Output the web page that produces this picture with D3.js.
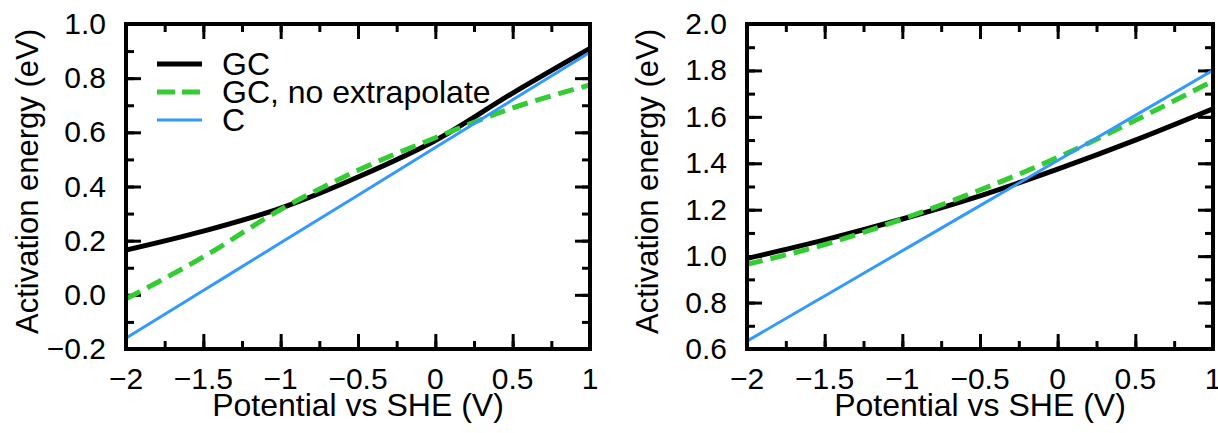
<!DOCTYPE html>
<html>
<head>
<meta charset="utf-8">
<script src="https://cdn.jsdelivr.net/npm/d3@7"></script>
<style>
  body { margin: 0; background: #fff; }
  svg { display: block; }
  text { font-family: "Liberation Sans", Arial, Helvetica, sans-serif; fill: #000; }
</style>
</head>
<body>
<div id="chart"></div>
<script>
const potential = [-2, -1.5, -1, -0.5, 0, 0.5, 1];

// left panel
const leftGC = [0.165, 0.235, 0.32, 0.435, 0.57, 0.745, 0.91];
const leftGCNoExtrap = [-0.015, 0.14, 0.315, 0.46, 0.58, 0.69, 0.775];
const leftC = [-0.16, 0.016, 0.192, 0.368, 0.544, 0.72, 0.896];

// right panel
const rightGC = [0.99, 1.07, 1.16, 1.26, 1.375, 1.5, 1.635];
const rightGCNoExtrap = [0.965, 1.05, 1.16, 1.285, 1.425, 1.585, 1.755];
const rightC = [0.634, 0.8285, 1.023, 1.2175, 1.412, 1.6065, 1.801];

const xTicks = [-2, -1.5, -1, -0.5, 0, 0.5, 1];
const xTickLabels = ["\u22122", "\u22121.5", "\u22121", "\u22120.5", "0", "0.5", "1"];
const leftYTicks = [-0.2, 0, 0.2, 0.4, 0.6, 0.8, 1.0];
const rightYTicks = [0.6, 0.8, 1.0, 1.2, 1.4, 1.6, 1.8, 2.0];

const seriesNames = ["GC", "GC, no extrapolate", "C"];

const width = 1218;
const height = 433;
const tickFont = 30;

const svg = d3.select("#chart").append("svg")
  .attr("width", width)
  .attr("height", height);

const fmtY = v => {
  const s = Math.abs(v).toFixed(1);
  return v < -1e-9 ? "\u2212" + s : s;
};

function drawPanel(opts) {
  const { left, right, top, bottom, yDomain, yTicks, gc, gcNo, c, legend, id, titleX } = opts;

  const x = d3.scaleLinear().domain([-2, 1]).range([left, right]);
  const y = d3.scaleLinear().domain(yDomain).range([bottom, top]);

  const g = svg.append("g");

  g.append("clipPath").attr("id", id)
    .append("rect")
    .attr("x", left).attr("y", top)
    .attr("width", right - left).attr("height", bottom - top);

  const xMinor = d3.range(-2, 1.0001, 0.25);
  const yMinor = d3.range(yDomain[0], yDomain[1] + 1e-6, 0.1);

  const tickGroup = g.append("g");
  function ticks(axis, transform, values, size) {
    tickGroup.append("g")
      .attr("transform", transform)
      .call(axis.tickValues(values).tickSize(size).tickFormat(""))
      .call(s => s.select(".domain").remove())
      .call(s => s.selectAll("line").attr("stroke", "#000").attr("stroke-width", 3));
  }
  // inward ticks on all four sides
  ticks(d3.axisBottom(x), `translate(0,${bottom})`, xMinor, -8);
  ticks(d3.axisBottom(x), `translate(0,${bottom})`, xTicks, -15);
  ticks(d3.axisTop(x), `translate(0,${top})`, xMinor, -8);
  ticks(d3.axisTop(x), `translate(0,${top})`, xTicks, -15);
  ticks(d3.axisLeft(y), `translate(${left},0)`, yMinor, -8);
  ticks(d3.axisLeft(y), `translate(${left},0)`, yTicks, -15);
  ticks(d3.axisRight(y), `translate(${right},0)`, yMinor, -8);
  ticks(d3.axisRight(y), `translate(${right},0)`, yTicks, -15);

  // tick labels
  g.append("g").selectAll("text")
    .data(xTicks)
    .join("text")
    .attr("x", d => x(d))
    .attr("y", bottom + 40)
    .attr("text-anchor", "middle")
    .attr("font-size", tickFont)
    .text((d, i) => xTickLabels[i]);

  g.append("g").selectAll("text")
    .data(yTicks)
    .join("text")
    .attr("x", left - 20)
    .attr("y", d => y(d) + 10)
    .attr("text-anchor", "end")
    .attr("font-size", tickFont)
    .text(d => fmtY(d));

  // axis titles
  g.append("text")
    .attr("x", (left + right) / 2)
    .attr("y", bottom + 67)
    .attr("text-anchor", "middle")
    .attr("font-size", 32)
    .text("Potential vs SHE (V)");

  g.append("text")
    .attr("transform", `translate(${titleX},${(top + bottom) / 2 - 5}) rotate(-90)`)
    .attr("text-anchor", "middle")
    .attr("font-size", 31)
    .text("Activation energy (eV)");

  // lines
  const line = vals => d3.line()
    .x((d, i) => x(potential[i]))
    .y(d => y(d))
    .curve(d3.curveMonotoneX)(vals);

  const lines = g.append("g").attr("clip-path", `url(#${id})`);
  lines.append("path").attr("d", line(gc))
    .attr("fill", "none").attr("stroke", "#000").attr("stroke-width", 5);
  lines.append("path").attr("d", line(gcNo))
    .attr("fill", "none").attr("stroke", "#33cc33").attr("stroke-width", 5)
    .attr("stroke-dasharray", "16,8");
  lines.append("path").attr("d", line(c))
    .attr("fill", "none").attr("stroke", "#3399ff").attr("stroke-width", 3);

  // frame
  g.append("rect")
    .attr("x", left).attr("y", top)
    .attr("width", right - left).attr("height", bottom - top)
    .attr("fill", "none").attr("stroke", "#000").attr("stroke-width", 4);

  if (legend) {
    const styles = [
      { stroke: "#000", w: 5, dash: null },
      { stroke: "#33cc33", w: 5, dash: "18,7" },
      { stroke: "#3399ff", w: 3, dash: null }
    ];
    const lg = g.append("g");
    seriesNames.forEach((name, i) => {
      const yy = 64 + i * 28;
      lg.append("line")
        .attr("x1", 157).attr("x2", 202).attr("y1", yy).attr("y2", yy)
        .attr("stroke", styles[i].stroke).attr("stroke-width", styles[i].w)
        .attr("stroke-dasharray", styles[i].dash);
      lg.append("text")
        .attr("x", 222).attr("y", yy + 11)
        .attr("font-size", 32)
        .text(name);
    });
  }
}

drawPanel({
  id: "clipL", left: 126, right: 590, top: 24, bottom: 349,
  yDomain: [-0.2, 1.0], yTicks: leftYTicks,
  gc: leftGC, gcNo: leftGCNoExtrap, c: leftC, legend: true, titleX: 38
});

drawPanel({
  id: "clipR", left: 747, right: 1213, top: 24, bottom: 349,
  yDomain: [0.6, 2.0], yTicks: rightYTicks,
  gc: rightGC, gcNo: rightGCNoExtrap, c: rightC, legend: false, titleX: 658
});
</script>
</body>
</html>
